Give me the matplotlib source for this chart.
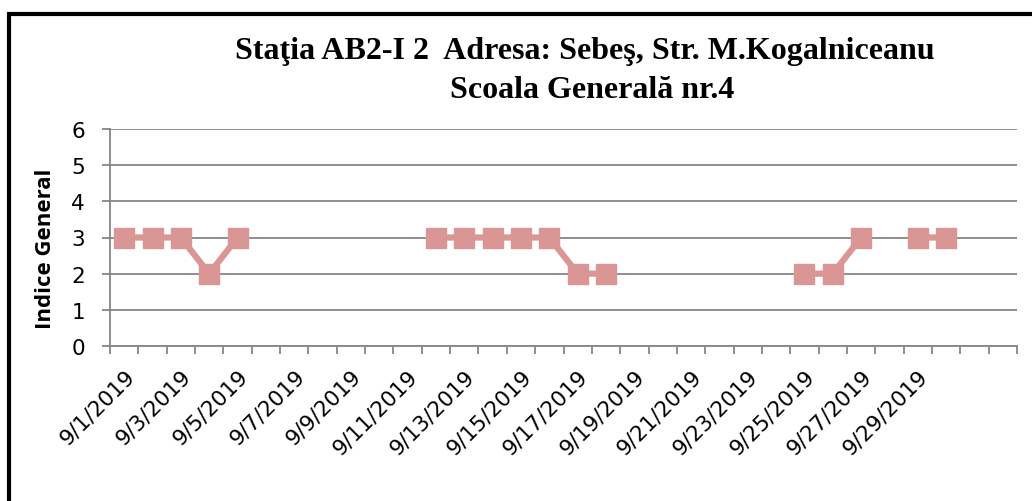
import numpy as np
import matplotlib.pyplot as plt
from matplotlib.patches import Rectangle

# Data: one value per day, None = no measurement
dates = ['9/%d/2019' % d for d in range(1, 31)] + ['10/1/2019', '10/2/2019']
values = [3, 3, 3, 2, 3, None, None, None, None, None, None,
          3, 3, 3, 3, 3, 2, 2, None, None, None, None, None, None,
          2, 2, 3, None, 3, 3, None, None]
shown_labels = ['9/%d/2019' % d for d in range(1, 30, 2)]
title_lines = ['Staţia AB2-I 2  Adresa: Sebeş, Str. M.Kogalniceanu',
               'Scoala Generală nr.4']

y = np.array([np.nan if v is None else v for v in values], dtype=float)
x = np.arange(len(dates))

fig = plt.figure(figsize=(10.32, 5.02), dpi=100)
ax = fig.add_axes([110 / 1032, 1 - 347 / 502, 907 / 1032, 217 / 502])

color = '#D99694'
ax.plot(x, y, color=color, linewidth=4.5, marker='s', markersize=14,
        markerfacecolor=color, markeredgecolor=color, zorder=3)

ax.set_xlim(-0.5, len(dates) - 0.5)
ax.set_ylim(0, 6)
ax.set_yticks(range(0, 7))
ax.grid(axis='y', color='#868686', linewidth=1.3)
ax.set_axisbelow(True)

# tick marks between categories, labels every second day
ax.set_xticks(np.arange(-0.5, len(dates), 1), minor=True)
ax.set_xticks([i for i, d in enumerate(dates) if d in shown_labels])
ax.set_xticklabels([d for d in dates if d in shown_labels], rotation=45,
                   ha='right', va='top', rotation_mode='anchor',
                   fontsize=15.5, family='DejaVu Sans')
ax.tick_params(axis='x', which='major', length=0, pad=14)
ax.tick_params(axis='x', which='minor', length=6, color='#868686', width=1.3)
ax.tick_params(axis='y', length=6, color='#868686', width=1.3,
               labelsize=15.5, pad=12)

for s in ['top', 'right']:
    ax.spines[s].set_visible(False)
for s in ['left', 'bottom']:
    ax.spines[s].set_color('#868686')
    ax.spines[s].set_linewidth(1.3)

ax.set_ylabel('Indice General', fontsize=16, fontweight='bold',
              family='Open Sans')
ax.yaxis.set_label_coords((56 - 110) / 907, (347 - 249) / 217)

fig.text(585 / 1032, 1 - 52 / 502, title_lines[0], ha='center', va='center',
         fontsize=23, fontweight='bold', family='Liberation Serif')
fig.text(592 / 1032, 1 - 90 / 502, title_lines[1], ha='center', va='center',
         fontsize=23, fontweight='bold', family='Liberation Serif')

# black frame around the chart (right and bottom edges run off the image)
fig.patches.append(Rectangle((9 / 1032, -0.05), 1.1, 1 - 15 / 502 + 0.05,
                             transform=fig.transFigure, fill=False,
                             edgecolor='black', linewidth=3))

fig.savefig('out.png', dpi=100)
